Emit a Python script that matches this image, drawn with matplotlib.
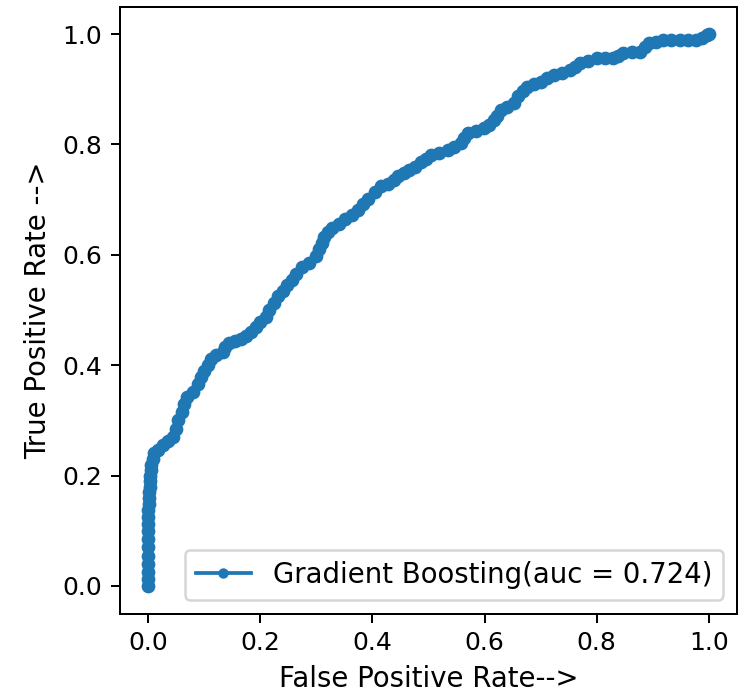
import matplotlib
matplotlib.use("Agg")
import matplotlib.pyplot as plt

# ROC points
fpr = [0.000, 0.000, 0.000, 0.000, 0.000, 0.000, 0.000, 0.000, 0.000, 0.000,
       0.000, 0.002, 0.002, 0.002, 0.004, 0.004, 0.004, 0.006, 0.006, 0.008,
       0.010, 0.018, 0.027, 0.036, 0.045, 0.050, 0.054, 0.060, 0.064, 0.070,
       0.080, 0.089, 0.095, 0.100, 0.106, 0.113, 0.122, 0.133, 0.138, 0.145,
       0.155, 0.165, 0.175, 0.183, 0.192, 0.200, 0.210, 0.216, 0.225, 0.232,
       0.240, 0.248, 0.256, 0.264, 0.275, 0.287, 0.299, 0.304, 0.310, 0.314,
       0.320, 0.328, 0.340, 0.352, 0.363, 0.375, 0.384, 0.393, 0.405, 0.416,
       0.428, 0.438, 0.446, 0.456, 0.466, 0.476, 0.486, 0.495, 0.505, 0.518,
       0.535, 0.546, 0.558, 0.563, 0.570, 0.585, 0.599, 0.608, 0.616, 0.623,
       0.629, 0.640, 0.652, 0.660, 0.668, 0.676, 0.688, 0.700, 0.712, 0.723,
       0.738, 0.753, 0.762, 0.770, 0.785, 0.800, 0.815, 0.829, 0.838, 0.847,
       0.862, 0.877, 0.886, 0.894, 0.906, 0.918, 0.933, 0.948, 0.962, 0.977,
       0.988, 0.997, 1.000]
tpr = [0.000, 0.012, 0.025, 0.040, 0.055, 0.070, 0.085, 0.100, 0.112, 0.125,
       0.137, 0.148, 0.160, 0.170, 0.180, 0.190, 0.200, 0.210, 0.220, 0.230,
       0.240, 0.246, 0.255, 0.262, 0.270, 0.285, 0.300, 0.315, 0.330, 0.343,
       0.352, 0.365, 0.378, 0.390, 0.400, 0.412, 0.418, 0.424, 0.433, 0.440,
       0.443, 0.447, 0.452, 0.460, 0.470, 0.478, 0.488, 0.500, 0.512, 0.525,
       0.535, 0.545, 0.555, 0.565, 0.578, 0.585, 0.597, 0.610, 0.622, 0.633,
       0.641, 0.648, 0.655, 0.665, 0.672, 0.681, 0.692, 0.702, 0.713, 0.724,
       0.728, 0.735, 0.742, 0.748, 0.754, 0.760, 0.768, 0.774, 0.781, 0.784,
       0.790, 0.796, 0.802, 0.811, 0.820, 0.824, 0.829, 0.836, 0.844, 0.851,
       0.862, 0.868, 0.875, 0.888, 0.896, 0.905, 0.909, 0.914, 0.920, 0.926,
       0.930, 0.935, 0.941, 0.947, 0.951, 0.956, 0.956, 0.956, 0.961, 0.965,
       0.967, 0.968, 0.976, 0.983, 0.986, 0.989, 0.989, 0.989, 0.989, 0.989,
       0.993, 0.998, 1.000]
auc_score = 0.724

fig = plt.figure(figsize=(740 / 180, 698 / 180), dpi=180)
left, right = 120 / 740, 737 / 740
bottom, top = 1 - 613.5 / 698, 1 - 6.5 / 698
ax = fig.add_axes([left, bottom, right - left, top - bottom])

ax.plot(fpr, tpr, marker='.', markersize=9,
        label='Gradient Boosting(auc = %0.3f)' % auc_score)

ax.set_xlabel('False Positive Rate-->', fontsize=11)
ax.set_ylabel('True Positive Rate -->', fontsize=11)
ax.tick_params(labelsize=10)
ax.legend(loc='lower right', fontsize=11, markerscale=0.7)

fig.savefig('out.png', dpi=180)
